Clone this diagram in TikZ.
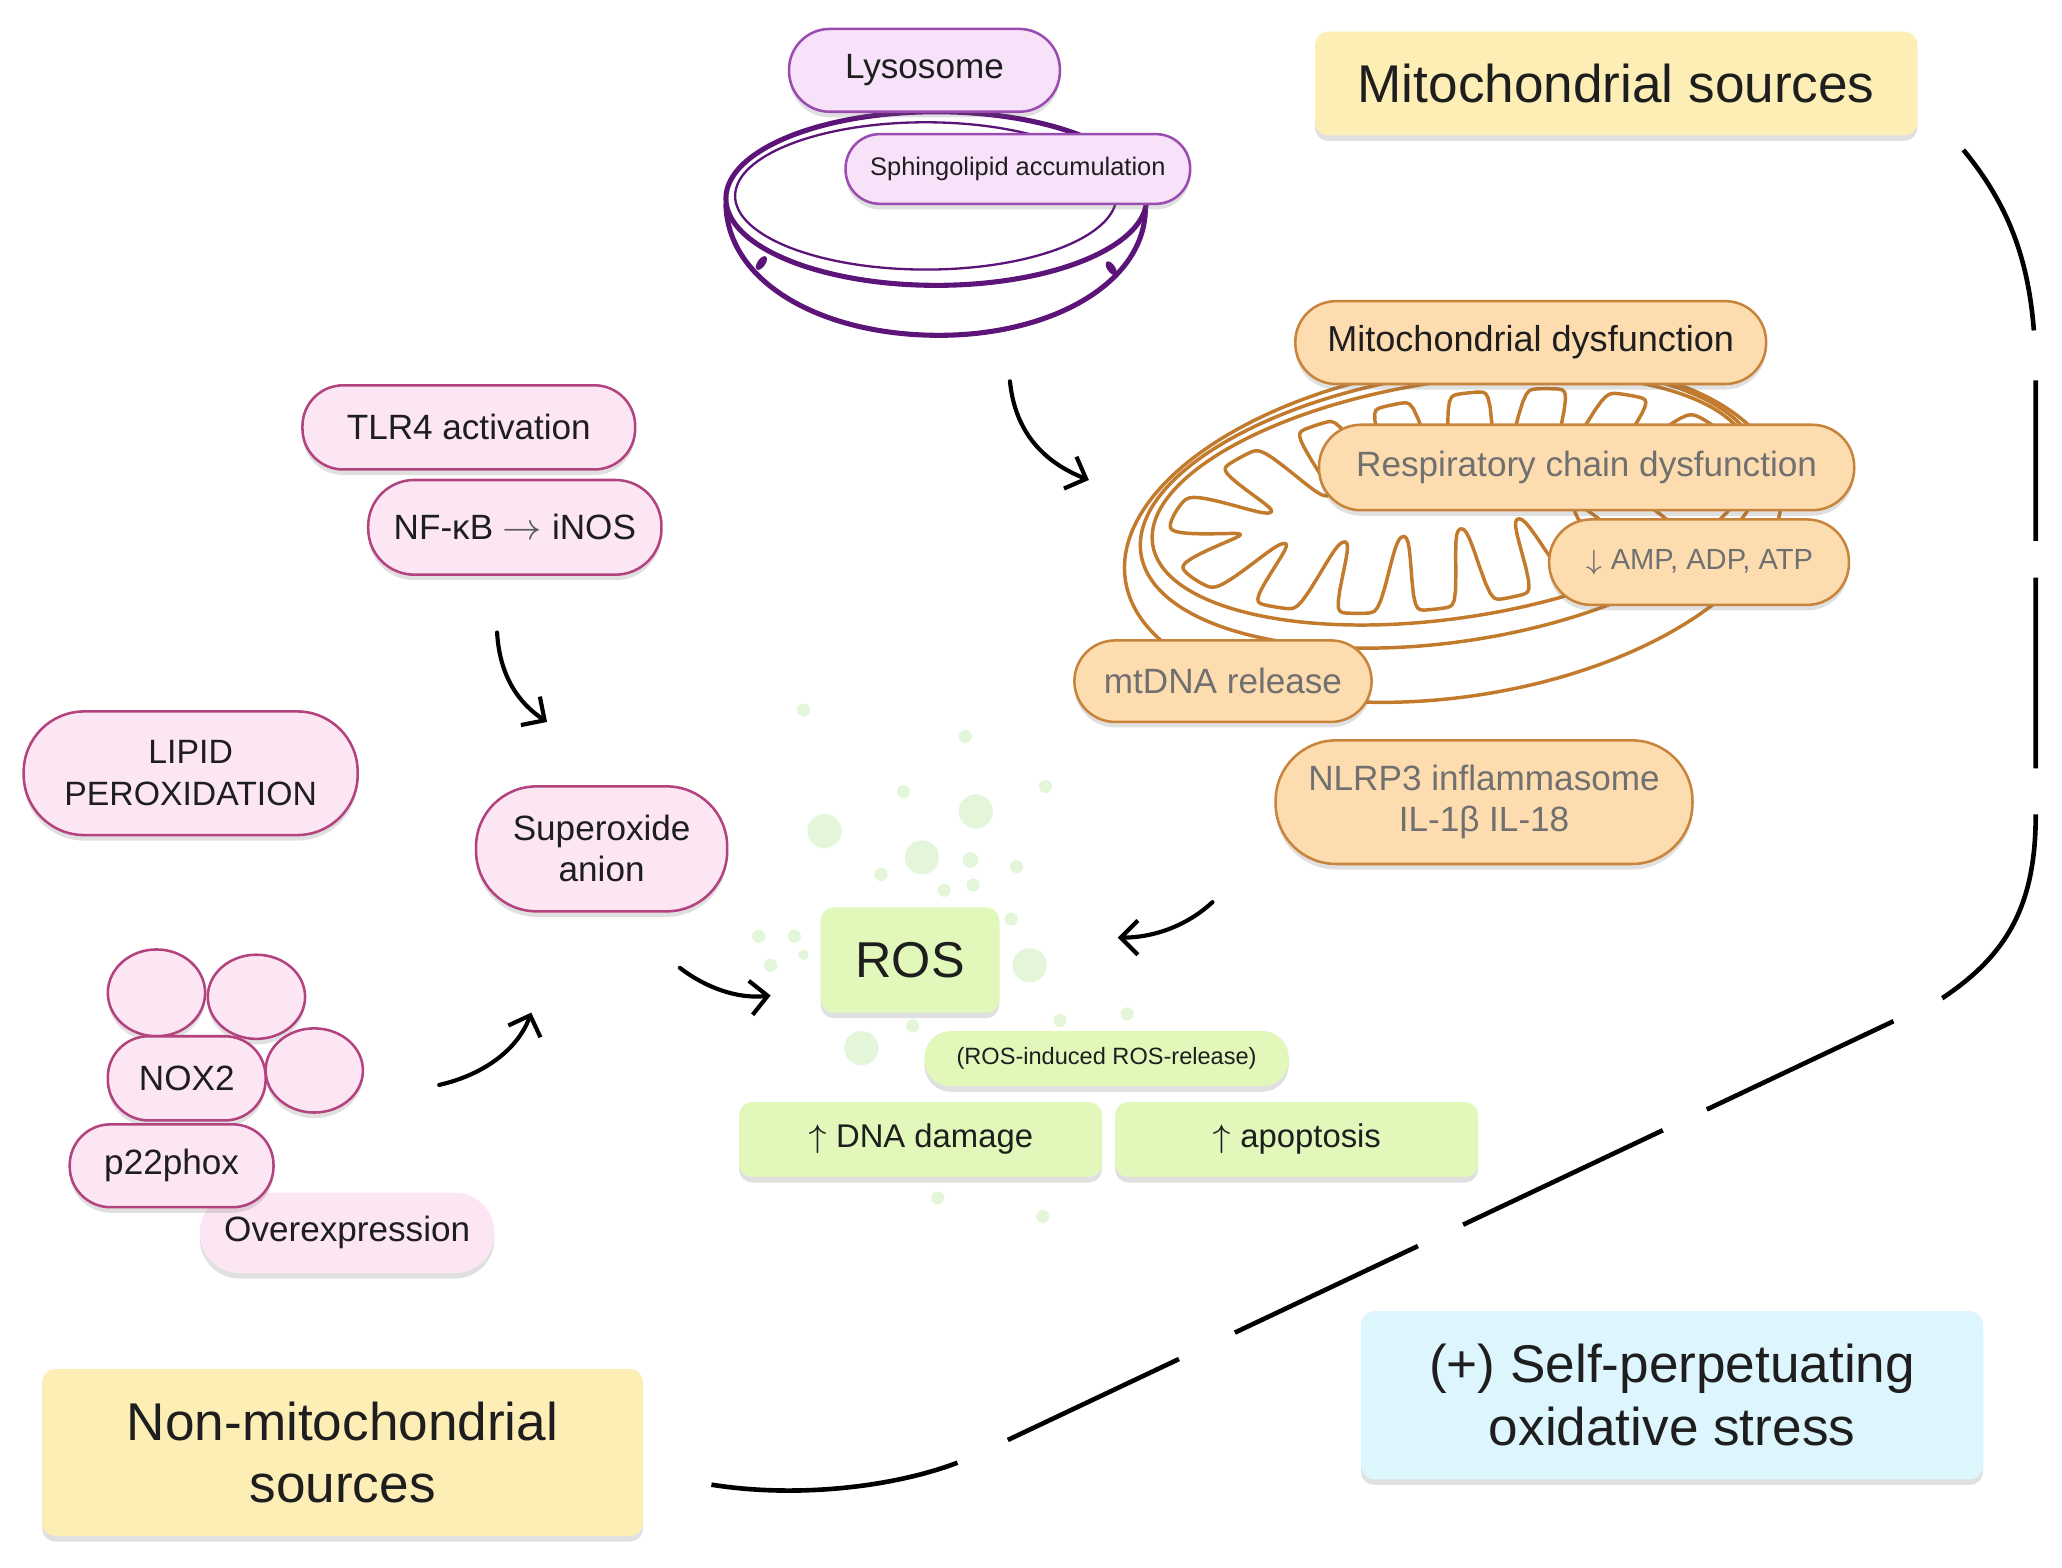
\documentclass[tikz,border=0pt]{standalone}
\usepackage{fontspec}
\setmainfont{Liberation Sans}
\usetikzlibrary{arrows.meta,shadows,shapes.geometric}
\definecolor{pinkfill}{HTML}{FDE6F4}
\definecolor{pinkline}{HTML}{B3437F}
\definecolor{lavfill}{HTML}{F8E2FA}
\definecolor{lavline}{HTML}{9A4CB0}
\definecolor{dishline}{HTML}{5C1479}
\definecolor{orfill}{HTML}{FDDDAF}
\definecolor{orline}{HTML}{C8843B}
\definecolor{mitoline}{HTML}{C27A2C}
\definecolor{grfill}{HTML}{E1F8BA}
\definecolor{yelfill}{HTML}{FDEEB6}
\definecolor{bluefill}{HTML}{DDF6FD}
\definecolor{dotgreen}{HTML}{E4F6DA}
\definecolor{txt}{HTML}{1E1E1E}
\definecolor{greytxt}{HTML}{707070}
\begin{document}
\begin{tikzpicture}[x=0.1mm,y=-0.1mm,
  declare function={
    mpsi(\t)=\t-12.9*sin(2*\t);
    mfold(\t)=0.5+0.5*tanh(2.6*cos(16*mpsi(\t)+30)-1.3);
    mx(\t)=218*cos(\t)*(1-0.27*mfold(\t));
    my(\t)=80*sin(\t)*(1-0.78*mfold(\t));
  },
  base/.style={inner sep=0pt,align=center,text=txt,font=\fontsize{7.6pt}{8.9pt}\selectfont},
  shad/.style={drop shadow={shadow xshift=0pt,shadow yshift=-1.2pt,opacity=0.2,fill=black!60}},
  pinkbox/.style={base,shad,draw=pinkline,fill=pinkfill,line width=0.55pt},
  lavbox/.style={base,shad,draw=lavline,fill=lavfill,line width=0.55pt},
  orbox/.style={base,shad,draw=orline,fill=orfill,line width=0.55pt},
  grbox/.style={base,shad,fill=grfill},
  titlebox/.style={base,shad,rounded corners=1mm,font=\fontsize{11.5pt}{13.6pt}\selectfont},
  mito/.style={draw=mitoline,line width=0.75pt},
  arr/.style={line width=0.9pt,line cap=round,-{Straight Barb[length=1.3mm,width=2.6mm]}},
  loopline/.style={line width=1pt,dash pattern=on 15mm off 3.8mm on 12.2mm off 2.8mm on 14.5mm off 3.5mm on 16.5mm off 4.1mm on 15.7mm off 3.7mm on 16.8mm off 3.8mm on 15.4mm off 4.7mm on 14.4mm off 4.2mm on 30mm off 5mm}
]
\useasboundingbox (0,0) rectangle (1568,1192);

% scattered ROS dots
\foreach \px/\py/\r in {611/540/5, 734/560/5, 795/598/5, 687/602/5, 742/617/13, 627/632/13,
  701/652/13, 738/654/6, 773/659/5, 670/665/5, 718/677/5, 740/673/5, 769/699/5, 577/712/5,
  604/712/5, 586/734/5, 611/726/4, 783/734/13, 694/780/5, 806/776/5, 857/771/5, 655/797/13,
  713/911/5, 793/925/5}
  \fill[dotgreen] (\px,\py) circle [radius=\r*0.1mm];

% lysosome dish
\draw[dishline,line width=1.1pt] (712,151) ellipse [x radius=16.0mm,y radius=6.6mm];
\draw[dishline,line width=0.5pt] (704,149) ellipse [x radius=14.5mm,y radius=5.6mm];
\draw[dishline,line width=1.1pt] (552,155) .. controls (553,215) and (625,255) .. (714,255)
  .. controls (800,255) and (871,215) .. (871,158);
\fill[dishline,rotate around={-35:(579,200)}] (579,200) ellipse [x radius=0.3mm,y radius=0.6mm];
\fill[dishline,rotate around={35:(845,204)}] (845,204) ellipse [x radius=0.3mm,y radius=0.6mm];

% mitochondrion
\begin{scope}[shift={(1105,404)},rotate=8.5]
  \draw[mito] (0,0) ellipse [x radius=25.2mm,y radius=12.6mm];
\end{scope}
\begin{scope}[shift={(1103,386)},rotate=8.5]
  \draw[mito] (0,0) ellipse [x radius=23.8mm,y radius=10.2mm];
\end{scope}
\begin{scope}[shift={(1104,380)},rotate=8.5]
  \draw[mito] (0,0) ellipse [x radius=23.0mm,y radius=9.0mm];
\end{scope}
\begin{scope}[shift={(1104,381)},rotate=8.5]
  \draw[mito] plot[domain=0:360,samples=721] ({mx(\x)},{my(\x)}) -- cycle;
\end{scope}

% lysosome labels
\node[lavbox,minimum width=20.6mm,minimum height=6.3mm,rounded corners=3.1mm] (lyso) at (703,53.5) {Lysosome};
\node[lavbox,minimum width=26.2mm,minimum height=5.3mm,rounded corners=2.6mm,font=\fontsize{5.5pt}{6.5pt}\selectfont] (sph) at (774,128.5) {Sphingolipid accumulation};

% mitochondrial labels
\node[orbox,minimum width=35.8mm,minimum height=6.3mm,rounded corners=3.1mm,font=\fontsize{7.8pt}{9pt}\selectfont] (mdys) at (1164,260.5) {Mitochondrial dysfunction};
\node[orbox,text=greytxt,minimum width=40.7mm,minimum height=6.5mm,rounded corners=3.2mm] (resp) at (1206.5,355.5) {Respiratory chain dysfunction};
\node[orbox,text=greytxt,minimum width=22.8mm,minimum height=6.5mm,rounded corners=3.2mm,font=\fontsize{6.3pt}{7.5pt}\selectfont] (amp) at (1292,427.5) {$\downarrow$ AMP, ADP, ATP};
\node[orbox,text=greytxt,minimum width=22.6mm,minimum height=6.2mm,rounded corners=3.1mm] (mtdna) at (930,518) {mtDNA release};
\node[orbox,text=greytxt,minimum width=31.7mm,minimum height=9.4mm,rounded corners=4.6mm] (nlrp) at (1128.5,610) {NLRP3 inflammasome\\IL-1β IL-18};

% non-mitochondrial labels
\node[pinkbox,minimum width=25.3mm,minimum height=6.4mm,rounded corners=3.1mm] (tlr4) at (356.5,325) {TLR4 activation};
\node[pinkbox,minimum width=22.3mm,minimum height=7.2mm,rounded corners=3.5mm] (nfkb) at (391.5,401) {NF-κB {\color{black!65}$\rightarrow$} iNOS};
\node[pinkbox,minimum width=25.4mm,minimum height=9.4mm,rounded corners=4.6mm,font=\fontsize{7.3pt}{9.1pt}\selectfont] (lipid) at (145,588) {LIPID\\PEROXIDATION};
\node[pinkbox,minimum width=19.1mm,minimum height=9.5mm,rounded corners=4.6mm] (sup) at (457.5,645.5) {Superoxide\\anion};
\node[pinkbox,draw=none,minimum width=22.4mm,minimum height=6.1mm,rounded corners=3mm] (over) at (264,937.5) {Overexpression};
\node[pinkbox,ellipse,minimum width=7.4mm,minimum height=6.6mm] (c1) at (119,755) {};
\node[pinkbox,ellipse,minimum width=7.4mm,minimum height=6.4mm] (c2) at (195,758) {};
\node[pinkbox,ellipse,minimum width=7.4mm,minimum height=6.4mm] (c3) at (239,814) {};
\node[pinkbox,minimum width=12mm,minimum height=6.4mm,rounded corners=3.1mm] (nox) at (142,820) {NOX2};
\node[pinkbox,minimum width=15.5mm,minimum height=6.3mm,rounded corners=3.1mm] (p22) at (130.5,886.5) {p22phox};

% ROS
\node[grbox,minimum width=13.6mm,minimum height=8mm,rounded corners=1mm,font=\fontsize{10.9pt}{12pt}\selectfont] (ros) at (692,730) {ROS};
\node[grbox,minimum width=27.7mm,minimum height=4.2mm,rounded corners=2mm,font=\fontsize{5.1pt}{6pt}\selectfont] (rir) at (841.5,805) {(ROS-induced ROS-release)};
\node[grbox,minimum width=27.6mm,minimum height=5.7mm,rounded corners=1mm,font=\fontsize{7.1pt}{8.5pt}\selectfont] (dna) at (700,866.5) {$\uparrow$ DNA damage};
\node[grbox,minimum width=27.6mm,minimum height=5.7mm,rounded corners=1mm,font=\fontsize{7.1pt}{8.5pt}\selectfont] (apo) at (986,866.5) {$\uparrow$ apoptosis};

% titles
\node[titlebox,fill=yelfill,minimum width=45.8mm,minimum height=7.9mm] (msrc) at (1229,63.5) {Mitochondrial sources};
\node[titlebox,fill=yelfill,minimum width=45.7mm,minimum height=12.7mm] (nmsrc) at (260.5,1104.5) {Non-mitochondrial\\sources};
\node[titlebox,fill=bluefill,minimum width=47.3mm,minimum height=12.8mm] (self) at (1271.5,1061) {(+) Self-perpetuating\\oxidative stress};

% arrows
\coordinate (a1s) at (768,290); \coordinate (a1e) at (828,365);
\coordinate (a2s) at (378,481); \coordinate (a2e) at (416,549);
\coordinate (a3s) at (334,825); \coordinate (a3e) at (404,770);
\coordinate (a4s) at (517,736); \coordinate (a4e) at (586,757);
\coordinate (a5s) at (922,686); \coordinate (a5e) at (850,713);
\draw[arr] (a1s) .. controls (772,330) and (795,352) .. (a1e);
\draw[arr] (a2s) .. controls (380,515) and (395,535) .. (a2e);
\draw[arr] (a3s) .. controls (365,818) and (393,800) .. (a3e);
\draw[arr] (a4s) .. controls (535,750) and (560,760) .. (a4e);
\draw[arr] (a5s) .. controls (905,702) and (880,713) .. (a5e);

% self-perpetuating loop
\coordinate (l0) at (1493,114);
\coordinate (l1) at (541,1129);
\draw[loopline] (l0) .. controls (1535,165) and (1548,215) .. (1548,290) -- (1548,620)
  .. controls (1548,690) and (1525,727) .. (1477,759) -- (741,1107)
  .. controls (690,1130) and (610,1140) .. (l1);
\end{tikzpicture}
\end{document}
